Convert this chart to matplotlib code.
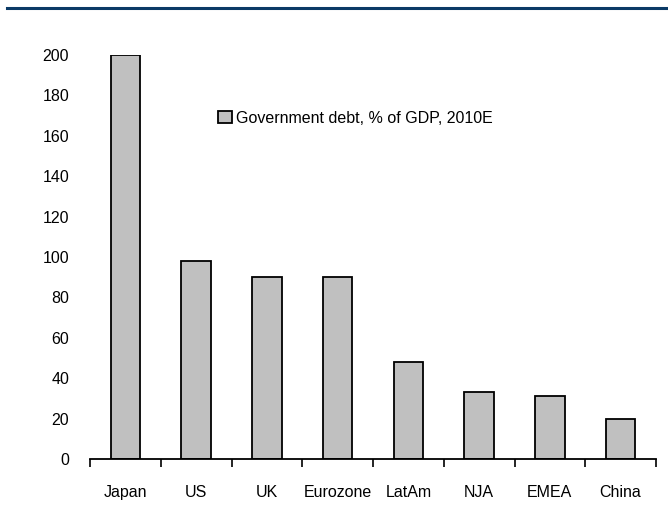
import matplotlib.pyplot as plt
from matplotlib.lines import Line2D

regions = ['Japan', 'US', 'UK', 'Eurozone', 'LatAm', 'NJA', 'EMEA', 'China']
debt = [200, 98, 90, 90, 48, 33, 31, 20]
series_label = 'Government debt, % of GDP, 2010E'

plt.rcParams['font.family'] = ['Liberation Sans', 'DejaVu Sans']

fig = plt.figure(figsize=(6.68, 5.23), dpi=100)
ax = fig.add_axes([90 / 668, 64 / 523, 566 / 668, 404 / 523])

x = list(range(len(regions)))
ax.bar(x, debt, width=0.42, color='#c0c0c0', edgecolor='black', linewidth=1.3,
       label=series_label)

ax.set_xlim(-0.5, len(regions) - 0.5)
ax.set_ylim(0, 200)
ax.set_yticks(range(0, 201, 20))
ax.tick_params(axis='y', length=0, labelsize=11.5, pad=15)

# category boundaries carry the ticks, labels sit under the bar centres
ax.set_xticks([i - 0.5 for i in range(len(regions) + 1)])
ax.set_xticklabels([])
ax.set_xticks(x, minor=True)
ax.set_xticklabels(regions, minor=True, fontsize=11.5)
ax.tick_params(axis='x', which='major', direction='out', length=6, width=1.2)
ax.tick_params(axis='x', which='minor', length=0, pad=19)

for side in ['top', 'right', 'left']:
    ax.spines[side].set_visible(False)
ax.spines['bottom'].set_linewidth(1.3)

ax.legend(loc='upper left', bbox_to_anchor=(0.212, 0.882), frameon=False,
          fontsize=11.5, handlelength=0.85, handleheight=0.85, handletextpad=0.3,
          borderpad=0)

fig.add_artist(Line2D([7 / 668, 1], [1 - 8 / 523, 1 - 8 / 523], color='#0b3a66',
                      linewidth=2.2))

fig.savefig('out.png', dpi=100)
